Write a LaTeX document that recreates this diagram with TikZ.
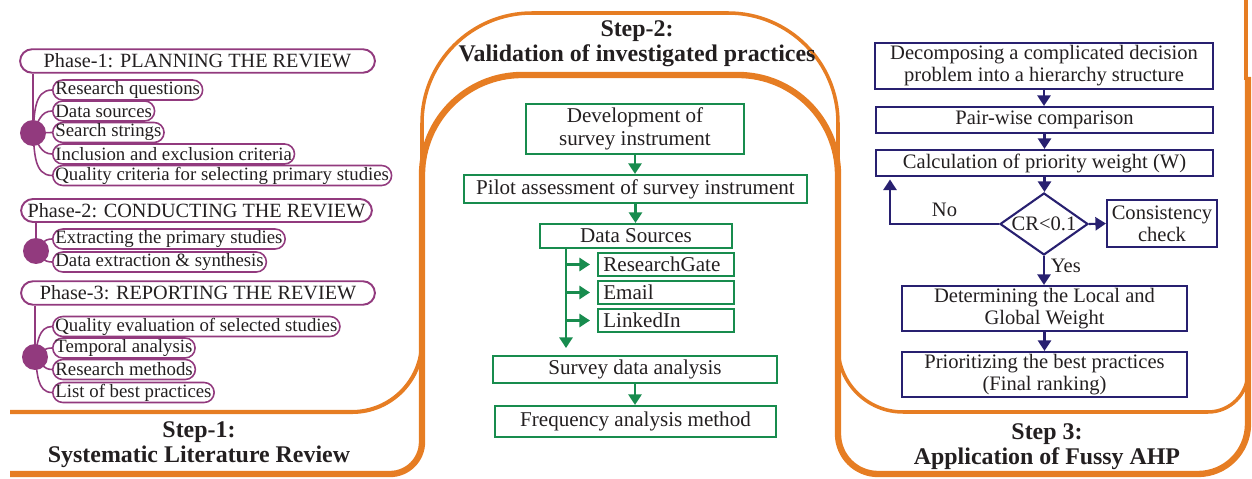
\documentclass[tikz,border=0pt]{standalone}
\usepackage{fontspec}
\setmainfont{Liberation Serif}
\usetikzlibrary{arrows.meta,shapes.geometric}

\definecolor{slrpurple}{RGB}{146,58,126}
\definecolor{valgreen}{RGB}{24,140,78}
\definecolor{ahpnavy}{RGB}{40,32,112}
\definecolor{frameorange}{RGB}{230,125,35}
\definecolor{txt}{RGB}{35,31,32}

\tikzset{
    phase/.style={draw=slrpurple, line width=1.1pt, rounded corners=0.24cm, minimum height=0.47cm, inner sep=0pt, font=\fontsize{11.5}{12}\selectfont},
    item/.style={draw=slrpurple, line width=0.9pt, rounded corners=0.2cm, minimum height=0.4cm, inner xsep=1.5pt, inner ysep=0pt, anchor=west, font=\fontsize{10.7}{11}\selectfont},
    hub/.style={circle, fill=slrpurple, minimum size=0.52cm, inner sep=0pt},
    branch/.style={draw=slrpurple, line width=0.9pt},
    gbox/.style={draw=valgreen, line width=1.2pt, inner sep=0pt, align=center, font=\fontsize{12}{13}\selectfont},
    source/.style={gbox, anchor=west, text width=2.5cm, inner xsep=3pt, minimum height=0.46cm, align=left},
    garrow/.style={valgreen, line width=1.2pt, -{Triangle[length=6pt,width=7.5pt]}},
    nbox/.style={draw=ahpnavy, line width=1.2pt, inner sep=0pt, align=center, font=\fontsize{11.7}{12.6}\selectfont},
    narrow/.style={ahpnavy, line width=1.2pt, -{Triangle[length=6pt,width=7.5pt]}},
    flowlabel/.style={text=txt, font=\fontsize{11.7}{12.6}\selectfont},
    steptitle/.style={align=center, font=\fontsize{13.6}{14.2}\selectfont\bfseries},
    thickframe/.style={draw=frameorange, line width=3.6pt},
    thinframe/.style={draw=frameorange, line width=2pt},
}

\begin{document}
\begin{tikzpicture}[x=0.02cm, y=-0.02cm, text=txt]
    \useasboundingbox (0,0) rectangle (1252,479);

    % orange frames
    \draw[thickframe] (10,474) -- (390,474) arc[start angle=90,end angle=0,radius=32]
        -- (422,175) arc[start angle=180,end angle=270,radius=100]
        -- (738,75) arc[start angle=270,end angle=360,radius=100]
        -- (838,434) arc[start angle=180,end angle=90,radius=40]
        -- (1198,474) arc[start angle=90,end angle=0,radius=50] -- (1248,77);
    \draw[thinframe] (422,170) -- (422,123) arc[start angle=180,end angle=270,radius=110]
        -- (728,13) arc[start angle=270,end angle=360,radius=110] -- (838,170);
    \draw[thinframe, line width=2.3pt] (10,412) -- (352,412) arc[start angle=90,end angle=0,radius=70] -- (422,330);
    \draw[thinframe] (838,330) -- (838,347) arc[start angle=180,end angle=90,radius=65]
        -- (1208,412) arc[start angle=90,end angle=0,radius=40] -- (1248,360);
    \draw[thinframe] (1246,0) -- (1246,80);

    % step 1
    \node[phase, minimum width=7.1cm] (ph1) at (197.5,61) {Phase-1: PLANNING THE REVIEW};
    \node[hub] (h1) at (33,133) {};
    \node[item] (rq) at (52,90) {Research questions};
    \node[item] (ds) at (52,111) {Data sources};
    \node[item] (ss) at (52,132.5) {Search strings};
    \node[item] (iec) at (52,154) {Inclusion and exclusion criteria};
    \node[item] (qc) at (52,175.5) {Quality criteria for selecting primary studies};
    \draw[branch] (ph1.south -| h1) -- (h1);
    \draw[branch] (h1.center) to[out=85,in=180] (rq.west);
    \draw[branch] (h1.center) to[out=65,in=180] (ds.west);
    \draw[branch] (h1.center) -- (ss.west);
    \draw[branch] (h1.center) to[out=-65,in=180] (iec.west);
    \draw[branch] (h1.center) to[out=-85,in=180] (qc.west);

    \node[phase, minimum width=7.02cm, minimum height=0.46cm] (ph2) at (196.5,210.5) {Phase-2: CONDUCTING THE REVIEW};
    \node[hub] (h2) at (36,251) {};
    \node[item] (eps) at (52,239) {Extracting the primary studies};
    \node[item] (des) at (52,262) {Data extraction \& synthesis};
    \draw[branch] (ph2.south -| h2) -- (h2);
    \draw[branch] (h2.center) to[out=60,in=180] (eps.west);
    \draw[branch] (h2.center) to[out=-60,in=180] (des.west);

    \node[phase, minimum width=7.08cm] (ph3) at (198,293) {Phase-3: REPORTING THE REVIEW};
    \node[hub] (h3) at (35,357) {};
    \node[item] (qe) at (52,326.5) {Quality evaluation of selected studies};
    \node[item] (ta) at (52,348) {Temporal analysis};
    \node[item] (rm) at (52,369.5) {Research methods};
    \node[item] (lbp) at (52,392.5) {List of best practices};
    \draw[branch] (ph3.south -| h3) -- (h3);
    \draw[branch] (h3.center) to[out=80,in=180] (qe.west);
    \draw[branch] (h3.center) to[out=45,in=180] (ta.west);
    \draw[branch] (h3.center) to[out=-50,in=180] (rm.west);
    \draw[branch] (h3.center) to[out=-80,in=180] (lbp.west);

    \node[steptitle] (t1) at (199,445) {Step-1:\\Systematic Literature Review};

    % step 2
    \node[steptitle] (t2) at (637,44) {Step-2:\\Validation of investigated practices};
    \node[gbox, minimum width=4.36cm, minimum height=1cm] (dev) at (635,129) {Development of\\survey instrument};
    \node[gbox, minimum width=6.86cm, minimum height=0.56cm] (pilot) at (635.5,189) {Pilot assessment of survey instrument};
    \node[gbox, minimum width=3.84cm, minimum height=0.48cm] (dsrc) at (636,236) {Data Sources};
    \node[source] (rg) at (597,264.5) {ResearchGate};
    \node[source] (email) at (597,292.5) {Email};
    \node[source] (li) at (597,320.5) {LinkedIn};
    \node[gbox, minimum width=5.68cm, minimum height=0.54cm] (sda) at (635,369.5) {Survey data analysis};
    \node[gbox, minimum width=5.62cm, minimum height=0.62cm] (fam) at (635.5,421.5) {Frequency analysis method};
    \coordinate (trunk) at (566,348);

    \draw[garrow] (dev.south) -- (dev.south |- pilot.north);
    \draw[garrow] (pilot.south) -- (pilot.south |- dsrc.north);
    \draw[garrow] (dsrc.south -| trunk) -- (trunk);
    \foreach \s in {rg,email,li}
        \draw[garrow, shorten >=4pt] (\s.west -| trunk) -- (\s.west);
    \draw[garrow] (sda.south) -- (sda.south |- fam.north);

    % step 3
    \node[nbox, minimum width=6.76cm, minimum height=0.92cm] (dec) at (1044,66) {Decomposing a complicated decision\\problem into a hierarchy structure};
    \node[nbox, minimum width=6.74cm, minimum height=0.52cm] (pair) at (1044.5,120) {Pair-wise comparison};
    \node[nbox, minimum width=6.74cm, minimum height=0.52cm] (wcalc) at (1044.5,163) {Calculation of priority weight (W)};
    \node[nbox, diamond, aspect=1.42, minimum width=1.76cm, minimum height=1.24cm] (cr) at (1044,224) {CR<0.1};
    \node[nbox, minimum width=2.2cm, minimum height=0.94cm] (cc) at (1162,223.5) {Consistency\\check};
    \node[nbox, minimum width=5.7cm, minimum height=0.9cm] (det) at (1044.5,308.5) {Determining the Local and\\Global Weight};
    \node[nbox, minimum width=5.7cm, minimum height=0.9cm] (prio) at (1044.5,374.5) {Prioritizing the best practices\\(Final ranking)};
    \coordinate (back) at (890,176);

    \draw[narrow] (dec.south) -- (dec.south |- pair.north);
    \draw[narrow] (pair.south) -- (pair.south |- wcalc.north);
    \draw[narrow] (wcalc.south) -- (wcalc.south |- cr.north);
    \draw[narrow] (cr.east) -- (cc.west);
    \draw[narrow] (cr.south) -- node[flowlabel, right, pos=0.35] {Yes} (cr.south |- det.north);
    \draw[narrow, shorten >=2pt] (cr.west) -| node[flowlabel, pos=0.25, above] {No} (back);
    \draw[narrow] (det.south) -- (det.south |- prio.north);

    \node[steptitle] (t3) at (1047,447) {Step 3:\\Application of Fussy AHP};
\end{tikzpicture}
\end{document}
